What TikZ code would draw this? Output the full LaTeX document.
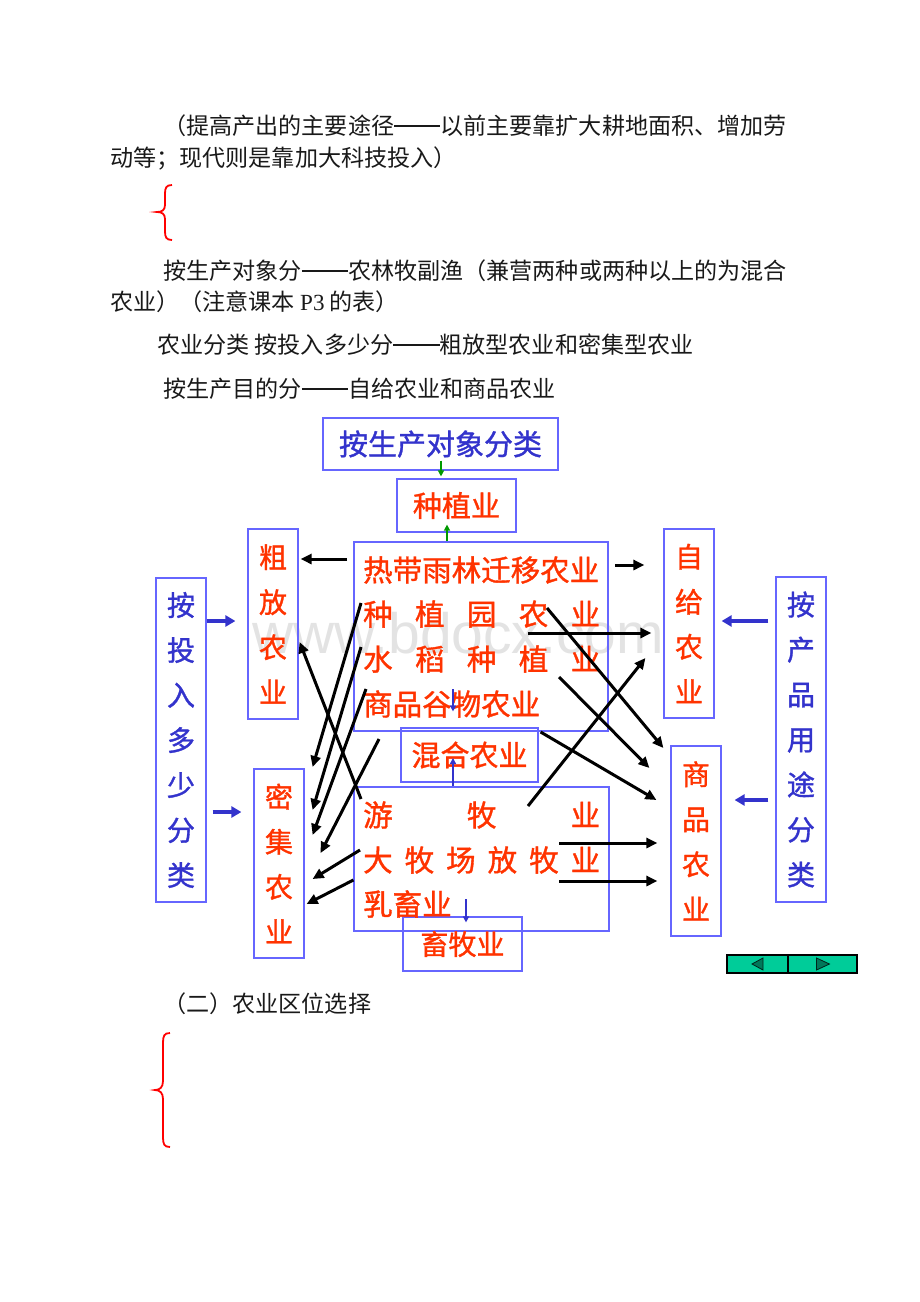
\documentclass[tikz,border=0pt]{standalone}
\usepackage{fontspec}
\setmainfont{Liberation Serif}
\newfontfamily\cjk{Noto Sans CJK SC}
\newfontfamily\cjkcu{Noto Sans CJK SC}[FakeBold=1.2]
\newfontfamily\wmfont{Liberation Sans}
\usetikzlibrary{positioning}
\usetikzlibrary{calc}
\usetikzlibrary{arrows.meta}
\definecolor{lanzi}{RGB}{51,51,204}
\definecolor{hongzi}{RGB}{255,51,0}
\definecolor{kuangxian}{RGB}{102,102,255}
\definecolor{lvse}{RGB}{0,153,0}
\definecolor{anniulv}{RGB}{0,204,153}
\definecolor{sanjiao}{RGB}{0,120,90}
\newcommand\pozhe{\rule[0.32em]{2em}{0.05em}}
\tikzset{
  zhengwen/.style={anchor=base west, inner sep=0pt, text=black!90, font=\cjk\fontsize{23.1}{28}\selectfont},
  kuang/.style={draw=kuangxian, line width=1.2pt, inner sep=0pt},
  hengzi/.style={kuang, text=hongzi, font=\cjkcu\fontsize{29}{30}\selectfont},
  hang/.style={anchor=west, inner sep=0pt, text=hongzi, font=\cjkcu\fontsize{29.5}{30}\selectfont},
  shu/.style={kuang, minimum width=50, align=center, font=\cjkcu\fontsize{28}{45}\selectfont},
  heijian/.style={line width=3pt, -{Triangle[length=11pt,width=10pt]}},
  lanjian/.style={draw=lanzi, line width=3.2pt, -{Triangle[length=10pt,width=11pt]}},
  xijian/.style={line width=1.4pt, -{Triangle[length=6pt,width=6pt]}},
  kuohao/.style={draw=red, line width=1.8pt},
  anniu/.style={draw=black, line width=2pt, fill=anniulv, inner sep=0pt, minimum height=18}
}
\begin{document}
\begin{tikzpicture}[x=1pt, y=-1pt]
\useasboundingbox (0,0) rectangle (920,1302);
% Watermark
\node[anchor=base west, inner sep=0pt, text=black!11, font=\wmfont\fontsize{57}{60}\selectfont] (shuiyin) at (252,653) {www.bdocx.com};
% Text
\node[zhengwen] (t1) at (163,134) {（提高产出的主要途径\pozhe 以前主要靠扩大耕地面积、增加劳};
\node[zhengwen] (t2) at (110,166) {动等；现代则是靠加大科技投入）};
\node[zhengwen] (t3) at (163,279) {按生产对象分\pozhe 农林牧副渔（兼营两种或两种以上的为混合};
\node[zhengwen] (t4) at (110,310) {农业）（注意课本 {\rmfamily P3} 的表）};
\node[zhengwen] (t5) at (157,353) {农业分类 按投入多少分\pozhe 粗放型农业和密集型农业};
\node[zhengwen] (t6) at (163,397) {按生产目的分\pozhe 自给农业和商品农业};
\node[zhengwen] (t7) at (163,1012) {（二）农业区位选择};
% Braces
\draw[kuohao] (172,185) .. controls (166,185) and (165,188) .. (165,194) -- (165,205)
  .. controls (165,210) and (162,212) .. (157,212) .. controls (162,212) and (165,214) .. (165,219)
  -- (165,231) .. controls (165,237) and (166,240) .. (172,240);
\draw[kuohao] (170,1033) .. controls (164,1033) and (163,1036) .. (163,1043) -- (163,1081)
  .. controls (163,1087) and (160,1090) .. (155,1090) .. controls (160,1090) and (163,1093) .. (163,1099)
  -- (163,1137) .. controls (163,1144) and (164,1147) .. (170,1147);
% Boxes
\node[kuang, minimum width=235, minimum height=52, text=lanzi, font=\cjkcu\fontsize{29}{30}\selectfont] (title) at (440.5,444) {按生产对象分类};
\node[hengzi, minimum width=119, minimum height=53] (zhongzhi) at (456.5,505.5) {种植业};
\node[kuang, minimum width=254, minimum height=189] (upbox) at (481,636.5) {};
\node[hengzi, minimum width=137, minimum height=54] (hunhe) at (469.5,755) {混合农业};
\node[kuang, minimum width=255, minimum height=144] (lowbox) at (481.5,859) {};
\node[hengzi, minimum width=119, minimum height=54, font=\cjkcu\fontsize{28}{30}\selectfont] (xumu) at (462.5,944) {畜牧业};
\node[shu, minimum height=324, text=lanzi] (touru) at (181,740) {按\\投\\入\\多\\少\\分\\类};
\node[shu, minimum height=190, text=hongzi] (cufang) at (273,624) {粗\\放\\农\\业};
\node[shu, minimum height=189, text=hongzi] (miji) at (279,863.5) {密\\集\\农\\业};
\node[shu, minimum height=189, text=hongzi] (zigei) at (689,623.5) {自\\给\\农\\业};
\node[shu, minimum height=325, text=lanzi] (yongtu) at (801,739.5) {按\\产\\品\\用\\途\\分\\类};
\node[shu, minimum height=190, text=hongzi] (shangpin) at (696,841) {商\\品\\农\\业};
% Rows
\node[hang] (rain) at (363,570) {热带雨林迁移农业};
\node[hang] (yuan) at (363,614) {\hbox to 237pt{种\hfill 植\hfill 园\hfill 农\hfill 业}};
\node[hang] (shuidao) at (363,659) {\hbox to 237pt{水\hfill 稻\hfill 种\hfill 植\hfill 业}};
\node[hang] (guwu) at (363,704) {商品谷物农业};
\node[hang] (youmu) at (363,815) {\hbox to 237pt{游\hfill 牧\hfill 业}};
\node[hang] (damu) at (363,860) {\hbox to 237pt{大\hfill 牧\hfill 场\hfill 放\hfill 牧\hfill 业}};
\node[hang] (ruxu) at (363,904) {乳畜业};
% Arrows
\draw[heijian] ($(rain.west)+(-16,-11)$) -- ($(cufang.east)+(2,-65)$);
\draw[heijian] ($(rain.east)+(16,-5)$) -- ($(zigei.west)+(-19,-58.5)$);
\draw[heijian] ($(yuan.west)+(165,19)$) -- ($(zigei.west)+(-12,9.5)$);
\draw[heijian] ($(yuan.west)+(184,-6)$) -- ($(shangpin.west)+(-7,-93)$);
\draw[heijian] ($(shuidao.west)+(196,18)$) -- ($(shangpin.west)+(-21,-73)$);
\draw[heijian] ($(hunhe.east)+(2,-23)$) -- ($(shangpin.west)+(-14,-41)$);
\draw[heijian] ($(youmu.west)+(165,-9)$) -- ($(zigei.west)+(-18,34.5)$);
\draw[heijian] ($(damu.west)+(196,-17)$) -- ($(shangpin.west)+(-13,2)$);
\draw[heijian] ($(damu.west)+(196,21)$) -- ($(shangpin.west)+(-13,40)$);
\draw[heijian] ($(youmu.west)+(-2,-16)$) -- ($(cufang.east)+(1,18)$);
\draw[heijian] ($(yuan.west)+(-2,-11)$) -- ($(miji.east)+(8,-96.5)$);
\draw[heijian] ($(shuidao.west)+(-2,-12)$) -- ($(miji.east)+(8,-53.5)$);
\draw[heijian] ($(guwu.west)+(3,-15)$) -- ($(miji.east)+(8,-28.5)$);
\draw[heijian] ($(guwu.west)+(16,35)$) -- ($(miji.east)+(16,-10.5)$);
\draw[heijian] ($(damu.west)+(-3,-10)$) -- ($(miji.east)+(8,15.5)$);
\draw[heijian] ($(lowbox.west)+(0,21)$) -- ($(miji.east)+(2,40.5)$);
\draw[lanjian] ($(touru.east)+(0,-119)$) -- ($(cufang.west)+(-12,-3)$);
\draw[lanjian] ($(touru.east)+(6,72)$) -- ($(miji.west)+(-12,-51.5)$);
\draw[lanjian] ($(yongtu.west)+(-7,-118.5)$) -- ($(zigei.east)+(7,-2.5)$);
\draw[lanjian] ($(yongtu.west)+(-7,60.5)$) -- ($(shangpin.east)+(13,-41)$);
\draw[xijian, lanzi] ($(guwu.west)+(90,-15)$) -- ($(hunhe.north)+(-16.5,-16)$);
\draw[xijian, lanzi] ($(lowbox.north)+(-28.5,0)$) -- ($(hunhe.center)+(-16.5,3)$);
\draw[xijian, lanzi] ($(ruxu.west)+(103,-5)$) -- ($(xumu.north)+(3.5,6)$);
\draw[xijian, lvse] ($(title.south)+(0.5,-10)$) -- ($(zhongzhi.north)+(-15.5,-2)$);
\draw[xijian, lvse] ($(upbox.north)+(-34,0)$) -- ($(zhongzhi.south)+(-9.5,-8)$);
% Buttons
\node[anniu, minimum width=61] (zuoan) at (757.5,964) {};
\node[anniu, minimum width=69] (youan) at (822.5,964) {};
\filldraw[fill=sanjiao, draw=black!70!sanjiao, line width=0.8pt] ($(zuoan)+(-5.5,0)$) -- ($(zuoan)+(5.5,-6)$) -- ($(zuoan)+(5.5,6)$) -- cycle;
\filldraw[fill=sanjiao, draw=black!70!sanjiao, line width=0.8pt] ($(youan)+(7,0)$) -- ($(youan)+(-6,-6)$) -- ($(youan)+(-6,6)$) -- cycle;
\end{tikzpicture}
\end{document}
